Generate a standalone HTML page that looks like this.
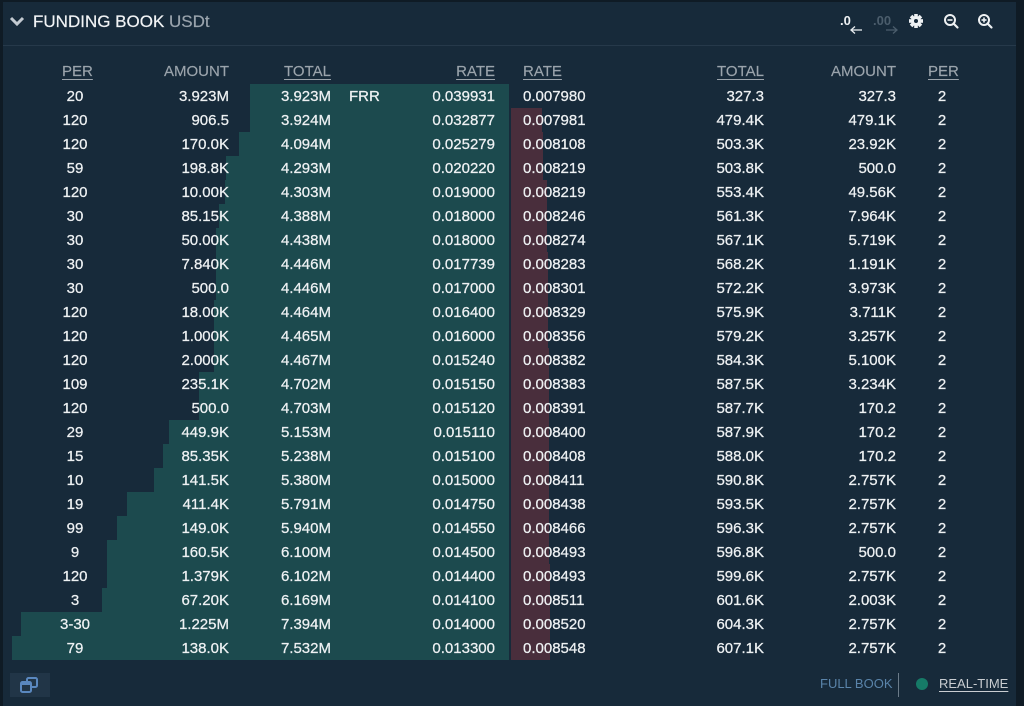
<!DOCTYPE html>
<html><head><meta charset="utf-8">
<style>
*{margin:0;padding:0;box-sizing:border-box}
html,body{width:1024px;height:706px;overflow:hidden;background:#0f1b25;font-family:"Liberation Sans",Arial,sans-serif}
#p{position:absolute;left:3px;top:2px;width:1013px;height:704px;background:#172a3a}
#w{position:absolute;left:0;top:0;width:1024px;height:706px}
.hl{position:absolute;left:3px;top:45px;width:1013px;height:1px;background:#26394a}
.t{position:absolute;top:11px;left:33px;font-size:17px;line-height:22px;color:#f2f4f6;white-space:nowrap;-webkit-text-stroke:0.2px #f2f4f6}
.t span{color:#9aa4ad;-webkit-text-stroke:0.2px #9aa4ad}
.h{position:absolute;top:60px;height:24px;line-height:24px;font-size:15px;color:#9ba4ac;white-space:nowrap;-webkit-text-stroke:0.15px #9ba4ac}
.u{text-decoration:underline;text-underline-offset:3px}
.r{position:absolute;left:0;width:1024px;height:24px;line-height:24px;font-size:15px;color:#eef1f3;white-space:nowrap;-webkit-text-stroke:0.25px #eef1f3}
.r span{position:absolute;top:1px}
.g{position:absolute;height:24px;background:#1c4a4e}
.d{position:absolute;left:511px;height:24px;background:#492e3c}
.c1{left:45px;width:60px;text-align:center}
.c2{right:795px}
.c3{right:693px}
.fr{left:349px}
.c4{right:529px}
.c5{left:523px}
.c6{right:260px}
.c7{right:128px}
.c8{left:912px;width:60px;text-align:center}
</style></head><body>
<div id="p"></div>
<div id="w">
<div class="hl"></div>
<svg style="position:absolute;left:0;top:0" width="1024" height="706">
<polyline points="11,18 17,24 23,18" fill="none" stroke="#c3cad1" stroke-width="3"/>
<line x1="851" y1="30" x2="862" y2="30" stroke="#e8ecef" stroke-width="1.3"/>
<polyline points="855,26.5 851,30 855,33.5" fill="none" stroke="#e8ecef" stroke-width="1.3"/>
<line x1="886" y1="30" x2="897" y2="30" stroke="#4b5d6c" stroke-width="1.3"/>
<polyline points="893,26.5 897,30 893,33.5" fill="none" stroke="#4b5d6c" stroke-width="1.3"/>
<g transform="translate(916,21)" fill="#eef1f3">
<rect x="-1.8" y="-7" width="3.6" height="14"/>
<rect x="-1.8" y="-7" width="3.6" height="14" transform="rotate(45)"/>
<rect x="-1.8" y="-7" width="3.6" height="14" transform="rotate(90)"/>
<rect x="-1.8" y="-7" width="3.6" height="14" transform="rotate(135)"/>
<circle r="5"/>
<circle r="2" fill="#172a3a"/>
</g>
<circle cx="950" cy="20" r="5" fill="none" stroke="#eef1f3" stroke-width="2"/>
<line x1="953.5" y1="23.5" x2="957.5" y2="27.5" stroke="#eef1f3" stroke-width="2.2" stroke-linecap="round"/>
<line x1="947.5" y1="20" x2="952.5" y2="20" stroke="#eef1f3" stroke-width="1.6"/>
<circle cx="984" cy="20" r="5" fill="none" stroke="#eef1f3" stroke-width="2"/>
<line x1="987.5" y1="23.5" x2="991.5" y2="27.5" stroke="#eef1f3" stroke-width="2.2" stroke-linecap="round"/>
<line x1="981.5" y1="20" x2="986.5" y2="20" stroke="#eef1f3" stroke-width="1.6"/>
<line x1="984" y1="17.5" x2="984" y2="22.5" stroke="#eef1f3" stroke-width="1.6"/>
<rect x="10" y="673" width="40" height="24" fill="#213547"/>
<rect x="27" y="678" width="10" height="9" rx="1.5" fill="none" stroke="#5a88bf" stroke-width="2"/>
<rect x="21" y="682" width="10" height="10" rx="1.5" fill="#213547" stroke="#5a88bf" stroke-width="2"/>
<rect x="21" y="682" width="10" height="3" fill="#5a88bf"/>
<line x1="898.5" y1="673" x2="898.5" y2="697" stroke="#6b7b89" stroke-width="1"/>
<circle cx="922" cy="684" r="6" fill="#167a67"/>
</svg>
<div class="t">FUNDING BOOK <span>USDt</span></div>
<div style="position:absolute;left:840px;top:14px;font-size:13px;line-height:14px;color:#eef1f3;font-weight:bold">.0</div>
<div style="position:absolute;left:873px;top:14px;font-size:13px;line-height:14px;color:#4b5d6c;font-weight:bold">.00</div>

<div class="h u" style="left:62px">PER</div>
<div class="h" style="right:795px">AMOUNT</div>
<div class="h u" style="right:693px">TOTAL</div>
<div class="h u" style="right:529px">RATE</div>
<div class="h u" style="left:523px">RATE</div>
<div class="h u" style="right:260px">TOTAL</div>
<div class="h" style="right:128px">AMOUNT</div>
<div class="h u" style="left:928px">PER</div>

<div class="g" style="top:84px;left:250px;width:259px"></div>
<div class="g" style="top:108px;left:250px;width:259px"></div>
<div class="g" style="top:132px;left:239px;width:270px"></div>
<div class="g" style="top:156px;left:226px;width:283px"></div>
<div class="g" style="top:180px;left:225px;width:284px"></div>
<div class="g" style="top:204px;left:219px;width:290px"></div>
<div class="g" style="top:228px;left:216px;width:293px"></div>
<div class="g" style="top:252px;left:216px;width:293px"></div>
<div class="g" style="top:276px;left:216px;width:293px"></div>
<div class="g" style="top:300px;left:214px;width:295px"></div>
<div class="g" style="top:324px;left:214px;width:295px"></div>
<div class="g" style="top:348px;left:214px;width:295px"></div>
<div class="g" style="top:372px;left:199px;width:310px"></div>
<div class="g" style="top:396px;left:199px;width:310px"></div>
<div class="g" style="top:420px;left:169px;width:340px"></div>
<div class="g" style="top:444px;left:163px;width:346px"></div>
<div class="g" style="top:468px;left:154px;width:355px"></div>
<div class="g" style="top:492px;left:127px;width:382px"></div>
<div class="g" style="top:516px;left:117px;width:392px"></div>
<div class="g" style="top:540px;left:107px;width:402px"></div>
<div class="g" style="top:564px;left:107px;width:402px"></div>
<div class="g" style="top:588px;left:102px;width:407px"></div>
<div class="g" style="top:612px;left:21px;width:488px"></div>
<div class="g" style="top:636px;left:12px;width:497px"></div>

<div class="d" style="top:108px;width:31px"></div>
<div class="d" style="top:132px;width:32px"></div>
<div class="d" style="top:156px;width:32px"></div>
<div class="d" style="top:180px;width:36px"></div>
<div class="d" style="top:204px;width:36px"></div>
<div class="d" style="top:228px;width:36px"></div>
<div class="d" style="top:252px;width:37px"></div>
<div class="d" style="top:276px;width:37px"></div>
<div class="d" style="top:300px;width:37px"></div>
<div class="d" style="top:324px;width:37px"></div>
<div class="d" style="top:348px;width:38px"></div>
<div class="d" style="top:372px;width:38px"></div>
<div class="d" style="top:396px;width:38px"></div>
<div class="d" style="top:420px;width:38px"></div>
<div class="d" style="top:444px;width:38px"></div>
<div class="d" style="top:468px;width:38px"></div>
<div class="d" style="top:492px;width:38px"></div>
<div class="d" style="top:516px;width:38px"></div>
<div class="d" style="top:540px;width:38px"></div>
<div class="d" style="top:564px;width:39px"></div>
<div class="d" style="top:588px;width:39px"></div>
<div class="d" style="top:612px;width:39px"></div>
<div class="d" style="top:636px;width:39px"></div>

<div class="r" style="top:84px"><span class="c1">20</span><span class="c2">3.923M</span><span class="c3">3.923M</span><span class="fr">FRR</span><span class="c4">0.039931</span><span class="c5">0.007980</span><span class="c6">327.3</span><span class="c7">327.3</span><span class="c8">2</span></div>
<div class="r" style="top:108px"><span class="c1">120</span><span class="c2">906.5</span><span class="c3">3.924M</span><span class="c4">0.032877</span><span class="c5">0.007981</span><span class="c6">479.4K</span><span class="c7">479.1K</span><span class="c8">2</span></div>
<div class="r" style="top:132px"><span class="c1">120</span><span class="c2">170.0K</span><span class="c3">4.094M</span><span class="c4">0.025279</span><span class="c5">0.008108</span><span class="c6">503.3K</span><span class="c7">23.92K</span><span class="c8">2</span></div>
<div class="r" style="top:156px"><span class="c1">59</span><span class="c2">198.8K</span><span class="c3">4.293M</span><span class="c4">0.020220</span><span class="c5">0.008219</span><span class="c6">503.8K</span><span class="c7">500.0</span><span class="c8">2</span></div>
<div class="r" style="top:180px"><span class="c1">120</span><span class="c2">10.00K</span><span class="c3">4.303M</span><span class="c4">0.019000</span><span class="c5">0.008219</span><span class="c6">553.4K</span><span class="c7">49.56K</span><span class="c8">2</span></div>
<div class="r" style="top:204px"><span class="c1">30</span><span class="c2">85.15K</span><span class="c3">4.388M</span><span class="c4">0.018000</span><span class="c5">0.008246</span><span class="c6">561.3K</span><span class="c7">7.964K</span><span class="c8">2</span></div>
<div class="r" style="top:228px"><span class="c1">30</span><span class="c2">50.00K</span><span class="c3">4.438M</span><span class="c4">0.018000</span><span class="c5">0.008274</span><span class="c6">567.1K</span><span class="c7">5.719K</span><span class="c8">2</span></div>
<div class="r" style="top:252px"><span class="c1">30</span><span class="c2">7.840K</span><span class="c3">4.446M</span><span class="c4">0.017739</span><span class="c5">0.008283</span><span class="c6">568.2K</span><span class="c7">1.191K</span><span class="c8">2</span></div>
<div class="r" style="top:276px"><span class="c1">30</span><span class="c2">500.0</span><span class="c3">4.446M</span><span class="c4">0.017000</span><span class="c5">0.008301</span><span class="c6">572.2K</span><span class="c7">3.973K</span><span class="c8">2</span></div>
<div class="r" style="top:300px"><span class="c1">120</span><span class="c2">18.00K</span><span class="c3">4.464M</span><span class="c4">0.016400</span><span class="c5">0.008329</span><span class="c6">575.9K</span><span class="c7">3.711K</span><span class="c8">2</span></div>
<div class="r" style="top:324px"><span class="c1">120</span><span class="c2">1.000K</span><span class="c3">4.465M</span><span class="c4">0.016000</span><span class="c5">0.008356</span><span class="c6">579.2K</span><span class="c7">3.257K</span><span class="c8">2</span></div>
<div class="r" style="top:348px"><span class="c1">120</span><span class="c2">2.000K</span><span class="c3">4.467M</span><span class="c4">0.015240</span><span class="c5">0.008382</span><span class="c6">584.3K</span><span class="c7">5.100K</span><span class="c8">2</span></div>
<div class="r" style="top:372px"><span class="c1">109</span><span class="c2">235.1K</span><span class="c3">4.702M</span><span class="c4">0.015150</span><span class="c5">0.008383</span><span class="c6">587.5K</span><span class="c7">3.234K</span><span class="c8">2</span></div>
<div class="r" style="top:396px"><span class="c1">120</span><span class="c2">500.0</span><span class="c3">4.703M</span><span class="c4">0.015120</span><span class="c5">0.008391</span><span class="c6">587.7K</span><span class="c7">170.2</span><span class="c8">2</span></div>
<div class="r" style="top:420px"><span class="c1">29</span><span class="c2">449.9K</span><span class="c3">5.153M</span><span class="c4">0.015110</span><span class="c5">0.008400</span><span class="c6">587.9K</span><span class="c7">170.2</span><span class="c8">2</span></div>
<div class="r" style="top:444px"><span class="c1">15</span><span class="c2">85.35K</span><span class="c3">5.238M</span><span class="c4">0.015100</span><span class="c5">0.008408</span><span class="c6">588.0K</span><span class="c7">170.2</span><span class="c8">2</span></div>
<div class="r" style="top:468px"><span class="c1">10</span><span class="c2">141.5K</span><span class="c3">5.380M</span><span class="c4">0.015000</span><span class="c5">0.008411</span><span class="c6">590.8K</span><span class="c7">2.757K</span><span class="c8">2</span></div>
<div class="r" style="top:492px"><span class="c1">19</span><span class="c2">411.4K</span><span class="c3">5.791M</span><span class="c4">0.014750</span><span class="c5">0.008438</span><span class="c6">593.5K</span><span class="c7">2.757K</span><span class="c8">2</span></div>
<div class="r" style="top:516px"><span class="c1">99</span><span class="c2">149.0K</span><span class="c3">5.940M</span><span class="c4">0.014550</span><span class="c5">0.008466</span><span class="c6">596.3K</span><span class="c7">2.757K</span><span class="c8">2</span></div>
<div class="r" style="top:540px"><span class="c1">9</span><span class="c2">160.5K</span><span class="c3">6.100M</span><span class="c4">0.014500</span><span class="c5">0.008493</span><span class="c6">596.8K</span><span class="c7">500.0</span><span class="c8">2</span></div>
<div class="r" style="top:564px"><span class="c1">120</span><span class="c2">1.379K</span><span class="c3">6.102M</span><span class="c4">0.014400</span><span class="c5">0.008493</span><span class="c6">599.6K</span><span class="c7">2.757K</span><span class="c8">2</span></div>
<div class="r" style="top:588px"><span class="c1">3</span><span class="c2">67.20K</span><span class="c3">6.169M</span><span class="c4">0.014100</span><span class="c5">0.008511</span><span class="c6">601.6K</span><span class="c7">2.003K</span><span class="c8">2</span></div>
<div class="r" style="top:612px"><span class="c1">3-30</span><span class="c2">1.225M</span><span class="c3">7.394M</span><span class="c4">0.014000</span><span class="c5">0.008520</span><span class="c6">604.3K</span><span class="c7">2.757K</span><span class="c8">2</span></div>
<div class="r" style="top:636px"><span class="c1">79</span><span class="c2">138.0K</span><span class="c3">7.532M</span><span class="c4">0.013300</span><span class="c5">0.008548</span><span class="c6">607.1K</span><span class="c7">2.757K</span><span class="c8">2</span></div>

<div style="position:absolute;left:820px;top:676px;font-size:13px;line-height:16px;color:#5a84aa;white-space:nowrap">FULL BOOK</div>
<div class="u" style="position:absolute;left:939px;top:676px;font-size:13px;line-height:16px;color:#c9cdd1;white-space:nowrap">REAL-TIME</div>
</div>
</body></html>
